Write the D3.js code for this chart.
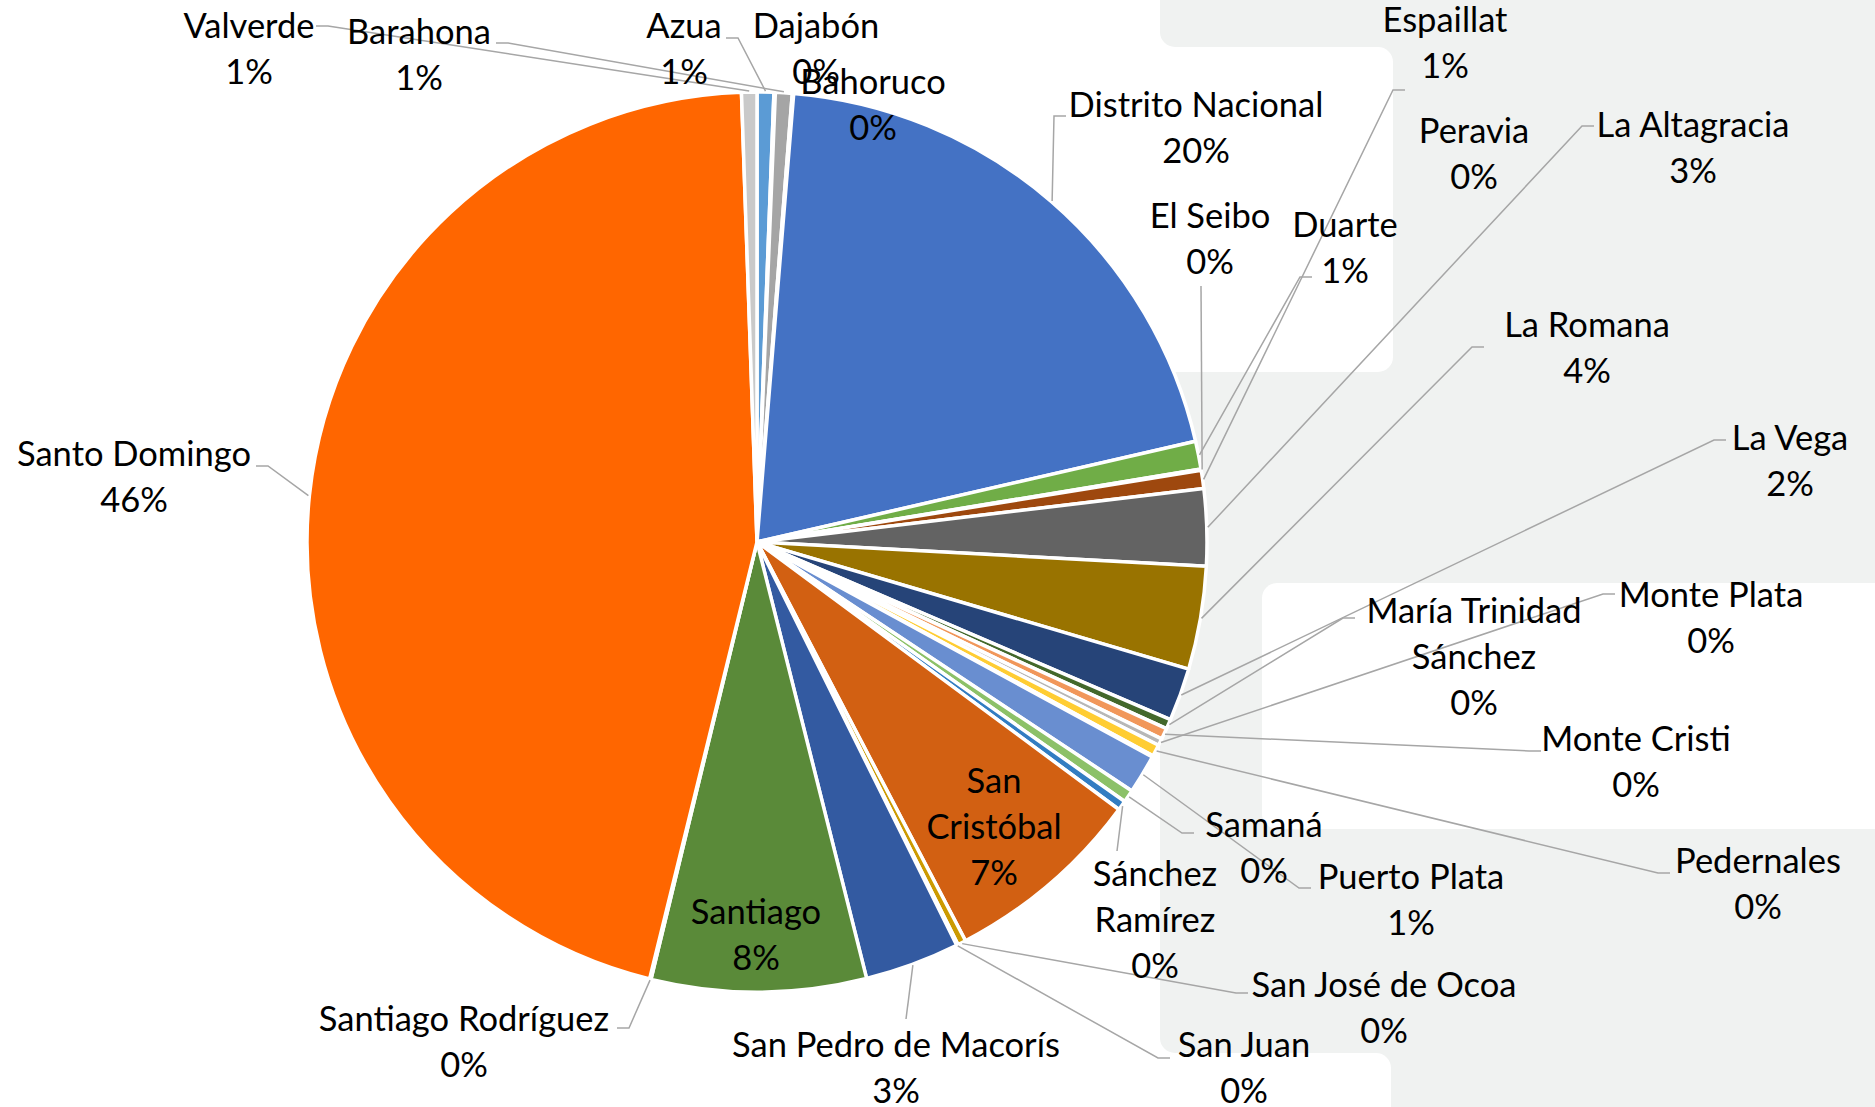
<!DOCTYPE html>
<meta charset="utf-8">
<style>
body, html {
  margin: 0;
  padding: 0;
  background: #fff;
}
svg {
  display: block;
}
.label {
  font: 34.5px Lato, "Open Sans", sans-serif;
  fill: #000;
}
.leader {
  fill: none;
  stroke: #a6a6a6;
  stroke-width: 1.5px;
}
.slice {
  stroke: #fff;
  stroke-width: 3.5px;
  stroke-linejoin: round;
}
</style>
<body>
<script src="https://d3js.org/d3.v7.min.js"></script>
<script>

var width = 1875,
    height = 1107,
    cx = 757,
    cy = 542,
    radius = 450,
    lineStep = 46,
    panelGray = "#f0f2f1"

// provinces in the order the slices run, clockwise from 12 o'clock
var provinces = [
  "Azua", "Bahoruco", "Barahona", "Dajabón", "Distrito Nacional", "Duarte",
  "El Seibo", "Espaillat", "La Altagracia", "La Romana", "La Vega",
  "María Trinidad Sánchez", "Monte Cristi", "Monte Plata", "Pedernales",
  "Peravia", "Puerto Plata", "Samaná", "Sánchez Ramírez", "San Cristóbal",
  "San José de Ocoa", "San Juan", "San Pedro de Macorís", "Santiago",
  "Santiago Rodríguez", "Santo Domingo", "Valverde"
]

// share of the total, in percent
var shares = [
  0.6, 0.05, 0.6, 0.05, 20.1, 1.0,
  0.05, 0.65, 2.75, 3.7, 1.9,
  0.35, 0.4, 0.25, 0.42,
  0.05, 1.4, 0.45, 0.35, 7.2,
  0.3, 0.05, 3.4, 7.7,
  0.05, 45.6, 0.55
]

var sliceColors = [
  "#5b9bd5", "#ed7d31", "#a5a5a5", "#ffc000", "#4472c4", "#70ad47",
  "#255e91", "#9e480e", "#636363", "#997300", "#264478",
  "#43682b", "#f1975a", "#b7b7b7", "#ffcd33",
  "#7cafdd", "#698ed0", "#8cc168", "#327dc2", "#d26012",
  "#cc9a00", "#848484", "#335aa1", "#5a8a39",
  "#8faadc", "#ff6600", "#c9c9c9"
]

// how Excel wrapped the longer names
var wrapped = {
  "María Trinidad Sánchez": ["María Trinidad", "Sánchez"],
  "Sánchez Ramírez": ["Sánchez", "Ramírez"],
  "San Cristóbal": ["San", "Cristóbal"]
}

// label layout: centre x, centre y, leader attach x, attach y, attach side
var labelPos = {
  "Valverde": [249, 49, 316, 26, "r"],
  "Barahona": [419, 55, 496, 43, "r"],
  "Azua": [684, 49, 726, 38, "r"],
  "Dajabón": [816, 49],
  "Bahoruco": [873, 105],
  "Distrito Nacional": [1196, 128, 1066, 116, "l"],
  "Duarte": [1345, 248, 1312, 277, "l"],
  "El Seibo": [1210, 239, 1201, 286, "v"],
  "Espaillat": [1445, 43, 1405, 90, "l"],
  "La Altagracia": [1693, 148, 1594, 126, "l"],
  "La Romana": [1587, 348, 1484, 347, "l"],
  "La Vega": [1790, 461, 1726, 440, "l"],
  "María Trinidad Sánchez": [1474, 657, 1355, 618, "l"],
  "Monte Cristi": [1636, 762, 1541, 751, "l"],
  "Monte Plata": [1711, 618, 1615, 594, "l"],
  "Pedernales": [1758, 884, 1670, 873, "l"],
  "Peravia": [1474, 154],
  "Puerto Plata": [1411, 900, 1311, 888, "l"],
  "Samaná": [1264, 848, 1194, 833, "l"],
  "Sánchez Ramírez": [1155, 920, 1117, 851, "v"],
  "San Cristóbal": [994, 827],
  "San José de Ocoa": [1384, 1008, 1248, 993, "l"],
  "San Juan": [1244, 1068, 1170, 1058, "l"],
  "San Pedro de Macorís": [896, 1068, 906, 1019, "v"],
  "Santiago": [756, 935],
  "Santiago Rodríguez": [464, 1042, 617, 1028, "r"],
  "Santo Domingo": [134, 477, 256, 466, "r"]
}

var data = provinces.map(function (name, i) {
  return {name: name, value: shares[i], color: sliceColors[i]}
})
var total = d3.sum(shares)
var pct = d3.format(".0%")

var svg = d3.select("body").append("svg")
    .attr("width", width)
    .attr("height", height)

// light panel shapes behind the right side
var bg = svg.append("g")
bg.append("rect").attr("x", 1160).attr("y", -50).attr("width", 800).attr("height", 97)
    .attr("rx", 15).attr("fill", panelGray)
bg.append("rect").attr("x", 1160).attr("y", 372).attr("width", 800).attr("height", 681)
    .attr("rx", 15).attr("fill", panelGray)
bg.append("rect").attr("x", 1300).attr("y", -50).attr("width", 700).attr("height", 1200)
    .attr("fill", panelGray)
bg.append("rect").attr("x", 1000).attr("y", 47).attr("width", 393).attr("height", 325)
    .attr("rx", 15).attr("fill", "#fff")
bg.append("rect").attr("x", 1262).attr("y", 583).attr("width", 700).attr("height", 246)
    .attr("rx", 15).attr("fill", "#fff")
bg.append("rect").attr("x", 1000).attr("y", 1053).attr("width", 391).attr("height", 200)
    .attr("rx", 15).attr("fill", "#fff")

var pie = d3.pie()
    .sort(null)
    .value(function (d) { return d.value })

var arcs = pie(data)

var arc = d3.arc()
    .innerRadius(0)
    .outerRadius(radius)

var rimArc = d3.arc()
    .innerRadius(radius + 1)
    .outerRadius(radius + 1)

var g = svg.append("g")
    .attr("transform", "translate(" + cx + "," + cy + ")")

g.selectAll("path.slice")
    .data(arcs)
    .enter().append("path")
    .attr("class", "slice")
    .attr("d", arc)
    .attr("fill", function (d) { return d.data.color })

// leader lines
var line = d3.line()
svg.append("g").selectAll("path")
    .data(arcs.filter(function (d) { return labelPos[d.data.name].length > 2 }))
    .enter().append("path")
    .attr("class", "leader")
    .attr("d", function (d) {
      var p = labelPos[d.data.name]
      var c = rimArc.centroid(d)
      var rim = [c[0] + cx, c[1] + cy]
      if (p[4] === "v") return line([rim, [p[2], p[3]]])
      var dir = p[4] === "l" ? -1 : 1
      return line([rim, [p[2] + dir * 12, p[3]], [p[2], p[3]]])
    })

// data labels
var labels = svg.append("g").selectAll("text")
    .data(arcs)
    .enter().append("text")
    .attr("class", "label")
    .attr("text-anchor", "middle")

labels.each(function (d) {
  var p = labelPos[d.data.name]
  var lines = (wrapped[d.data.name] || [d.data.name]).concat([pct(d.data.value / total)])
  var top = p[1] - (lines.length - 1) * lineStep / 2
  d3.select(this).selectAll("tspan")
      .data(lines)
      .enter().append("tspan")
      .attr("x", p[0])
      .attr("y", function (t, i) { return top + i * lineStep + 12 })
      .text(function (t) { return t })
})

</script>
</body>
